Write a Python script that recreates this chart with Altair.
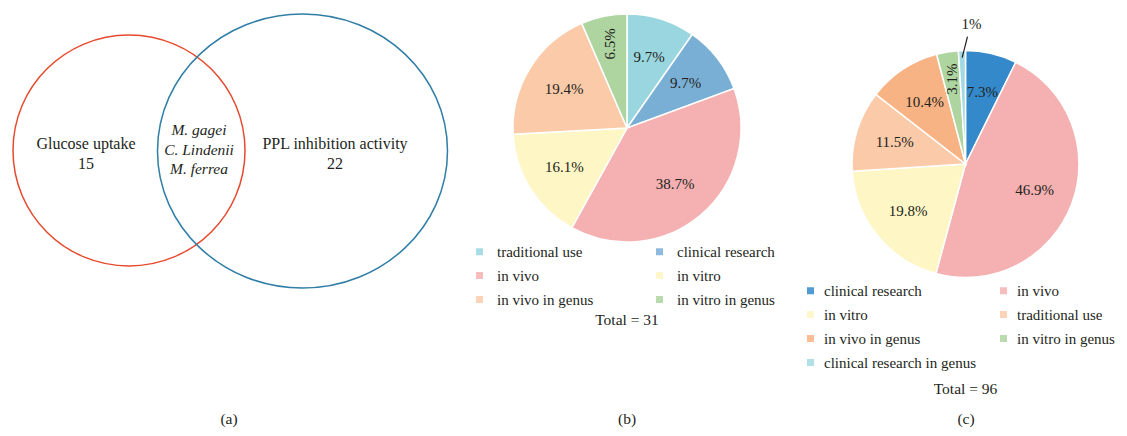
import altair as alt
import pandas as pd

# ---------------- data ----------------
venn_sets = ["Glucose uptake", "PPL inhibition activity"]
venn_counts = [15, 22]
venn_shared = ["M. gagei", "C. Lindenii", "M. ferrea"]

cats_b = ["traditional use", "clinical research", "in vivo", "in vitro",
          "in vivo in genus", "in vitro in genus"]
pct_b = [9.7, 9.7, 38.7, 16.1, 19.4, 6.5]
colors_b = ["#9AD6DF", "#7AAFD5", "#F5B1B2", "#FEF6C5", "#FBCBA9", "#AED5A0"]
total_b = 31

cats_c = ["clinical research", "in vivo", "in vitro", "traditional use",
          "in vivo in genus", "in vitro in genus", "clinical research in genus"]
pct_c = [7.3, 46.9, 19.8, 11.5, 10.4, 3.1, 1.0]
colors_c = ["#3389CA", "#F5B1B2", "#FEF6C5", "#FBCBA9", "#F8B384", "#AED5A0", "#A2D9E2"]
total_c = 96

captions = ["(a)", "(b)", "(c)"]

# ---------------- style / layout ----------------
FONT = "Liberation Serif"
TXT = "#231F20"
FS = 15.5
W, H = 1111, 420


def ellipse_path(rx, ry):
    b = ry / rx
    k = 0.5523
    return (f"M 1 0 C 1 {k*b:.4f} {k} {b:.4f} 0 {b:.4f} "
            f"C {-k} {b:.4f} -1 {k*b:.4f} -1 0 "
            f"C -1 {-k*b:.4f} {-k} {-b:.4f} 0 {-b:.4f} "
            f"C {k} {-b:.4f} 1 {-k*b:.4f} 1 0 Z")


venn_df = pd.DataFrame({"set": venn_sets, "count": venn_counts})
venn_geom = [  # cx, cy, rx, ry, colour, text x
    (121, 142.5, 116, 115.5, "#E64A2E", 78),
    (294.5, 143, 145, 137, "#2F7EA6", 327),
]

layers = []
for i, (cx, cy, rx, ry, col, tx) in enumerate(venn_geom):
    sub = alt.Chart(venn_df).transform_filter(alt.datum.set == venn_sets[i])
    layers.append(sub.mark_point(shape=ellipse_path(rx, ry), size=(2 * rx) ** 2,
                                 filled=False, color=col, strokeWidth=1.5, opacity=1)
                  .encode(x=alt.value(cx), y=alt.value(cy)))
    layers.append(sub.mark_text(font=FONT, fontSize=16, color=TXT, baseline="middle")
                  .encode(text="set:N", x=alt.value(tx), y=alt.value(136)))
    layers.append(sub.mark_text(font=FONT, fontSize=16, color=TXT, baseline="middle")
                  .encode(text="count:Q", x=alt.value(tx), y=alt.value(155.5)))

layers.append(alt.Chart(venn_df).transform_filter(alt.datum.set == venn_sets[0])
              .mark_text(text=venn_shared, font=FONT, fontSize=FS, fontStyle="italic",
                         color=TXT, baseline="middle", lineHeight=19.5)
              .encode(x=alt.value(191), y=alt.value(122)))


def pie(cats, pct, colors, total, cx, cy, R, lx, ly, colpad, loff):
    df = pd.DataFrame({"cat": cats, "pct": pct, "idx": list(range(len(cats))),
                       "lab": [f"{v:g}%" for v in pct]})
    base = alt.Chart(df).encode(theta=alt.Theta("pct:Q", stack=True),
                                order=alt.Order("idx:Q"),
                                x=alt.value(cx), y=alt.value(cy))
    arc = base.mark_arc(outerRadius=R, stroke="white", strokeWidth=1.5).encode(
        color=alt.Color("cat:N", sort=cats,
                        scale=alt.Scale(domain=cats, range=colors),
                        legend=alt.Legend(orient="none", legendX=lx, legendY=ly,
                                          direction="horizontal",
                                          columns=2, columnPadding=colpad, rowPadding=8,
                                          symbolType="square", symbolSize=49,
                                          symbolStrokeWidth=0, symbolOpacity=0.85,
                                          labelFont=FONT, labelFontSize=15,
                                          labelColor=TXT, labelOffset=loff,
                                          labelLimit=300, title=None)))
    # horizontal labels (large slices)
    txt_h = (base.transform_calculate(tl="datum.pct >= 7 ? datum.lab : ''")
             .mark_text(font=FONT, fontSize=15, color=TXT, baseline="middle", radius=74)
             .encode(text="tl:N", detail="cat:N"))
    # rotated labels (thin slices)
    txt_v = (base.transform_calculate(tl="datum.pct < 7 && datum.pct >= 2 ? datum.lab : ''")
             .mark_text(font=FONT, fontSize=15, color=TXT, baseline="middle",
                        radius=86, angle=270)
             .encode(text="tl:N", detail="cat:N"))
    # outside label (tiny slices)
    txt_o = (base.transform_calculate(tl="datum.pct < 2 ? datum.lab : ''")
             .mark_text(font=FONT, fontSize=15, color=TXT, baseline="middle",
                        radius=R + 27, dx=10.5)
             .encode(text="tl:N", detail="cat:N"))
    lead = (alt.Chart(df)
            .transform_joinaggregate(tot="sum(pct)")
            .transform_window(cum="sum(pct)", sort=[alt.SortField("idx")], frame=[None, 0])
            .transform_calculate(m="2*PI*(datum.cum - datum.pct/2)/datum.tot")
            .transform_filter("datum.pct < 2")
            .transform_calculate(
                x1=f"{cx} + {R-7}*sin(datum.m)", y1=f"{cy} - {R-7}*cos(datum.m)",
                x2=f"{cx} + {R+14}*sin(datum.m) + 6", y2=f"{cy} - {R+14}*cos(datum.m)")
            .mark_rule(color=TXT, strokeWidth=1.2)
            .encode(x=alt.X("x1:Q", scale=None, axis=None),
                    y=alt.Y("y1:Q", scale=None, axis=None),
                    x2="x2:Q", y2="y2:Q"))
    tot = (alt.Chart(pd.DataFrame({"t": [f"Total = {total}"]}))
           .mark_text(font=FONT, fontSize=FS, color=TXT, baseline="middle")
           .encode(text="t:N", x=alt.value(cx)))
    return alt.layer(arc, txt_h, txt_v, txt_o, lead), tot


pie_b, tot_b = pie(cats_b, pct_b, colors_b, total_b, 619, 120, 114, 464, 236, 58, 10)
pie_c, tot_c = pie(cats_c, pct_c, colors_c, total_c, 957.5, 156, 113.5, 795, 275, 19, 6)
layers += [pie_b, pie_c,
           tot_b.encode(y=alt.value(312)),
           tot_c.encode(y=alt.value(380.5))]

cap_df = pd.DataFrame({"cap": captions})
for c, x in zip(captions, [221, 619, 958]):
    layers.append(alt.Chart(cap_df).transform_filter(alt.datum.cap == c)
                  .mark_text(font=FONT, fontSize=FS, color=TXT, baseline="middle")
                  .encode(text="cap:N", x=alt.value(x), y=alt.value(411)))

chart = (alt.layer(*layers)
         .resolve_scale(theta="independent", color="independent")
         .properties(width=W, height=H, padding=0,
                     autosize=alt.AutoSizeParams(type="none"))
         .configure_view(strokeOpacity=0))

chart.save("out.html", embed_options={"renderer": "svg", "actions": False})
